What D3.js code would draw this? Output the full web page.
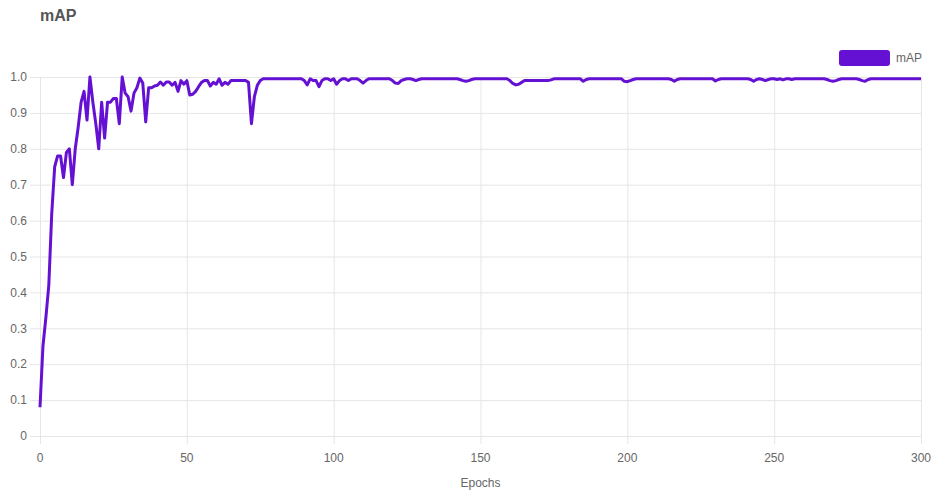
<!DOCTYPE html>
<html>
<head>
<meta charset="utf-8">
<script src="https://cdn.jsdelivr.net/npm/d3@7"></script>
<style>
  html, body { margin: 0; padding: 0; background: #ffffff; }
  svg { display: block; font-family: "Liberation Sans", Arial, Helvetica, sans-serif; }
</style>
</head>
<body>
<svg id="chart" width="943" height="492"></svg>
<script>
// ---- data ----
const chartTitle = "mAP";
const seriesName = "mAP";
const xAxisLabel = "Epochs";
const xTicks = [0, 50, 100, 150, 200, 250, 300];
const yTicks = [0, 0.1, 0.2, 0.3, 0.4, 0.5, 0.6, 0.7, 0.8, 0.9, 1.0];
const yTickLabels = ["0", "0.1", "0.2", "0.3", "0.4", "0.5", "0.6", "0.7", "0.8", "0.9", "1.0"];
// mAP value for epochs 0..300
const mapValues = [
  0.08, 0.25, 0.33, 0.42, 0.62, 0.75, 0.78, 0.78, 0.72, 0.79,
  0.80, 0.70, 0.80, 0.86, 0.93, 0.96, 0.88, 1.00, 0.93, 0.87,
  0.80, 0.93, 0.83, 0.93, 0.93, 0.94, 0.94, 0.87, 1.00, 0.955,
  0.945, 0.905, 0.955, 0.97, 0.997, 0.983, 0.875, 0.97, 0.97, 0.975,
  0.977, 0.986, 0.977, 0.986, 0.986, 0.977, 0.985, 0.96, 0.99, 0.98,
  0.99, 0.95, 0.952, 0.96, 0.973, 0.985, 0.99, 0.99, 0.975, 0.985,
  0.98, 0.995, 0.977, 0.985, 0.98, 0.99, 0.99, 0.99, 0.99, 0.99,
  0.99, 0.985, 0.87, 0.945, 0.977, 0.99, 0.995, 0.995, 0.995, 0.995,
  0.995, 0.995, 0.995, 0.995, 0.995, 0.995, 0.995, 0.995, 0.995, 0.995,
  0.99, 0.978, 0.995, 0.99, 0.99, 0.973, 0.99, 0.995, 0.995, 0.99,
  0.995, 0.98, 0.99, 0.995, 0.995, 0.99, 0.995, 0.995, 0.995, 0.99,
  0.983, 0.99, 0.995, 0.995, 0.995, 0.995, 0.995, 0.995, 0.995, 0.995,
  0.99, 0.983, 0.982, 0.99, 0.993, 0.995, 0.995, 0.993, 0.99, 0.993,
  0.995, 0.995, 0.995, 0.995, 0.995, 0.995, 0.995, 0.995, 0.995, 0.995,
  0.995, 0.995, 0.995, 0.993, 0.99, 0.988, 0.99, 0.993, 0.995, 0.995,
  0.995, 0.995, 0.995, 0.995, 0.995, 0.995, 0.995, 0.995, 0.995, 0.995,
  0.99, 0.982, 0.978, 0.98, 0.985, 0.99, 0.99, 0.99, 0.99, 0.99,
  0.99, 0.99, 0.99, 0.99, 0.992, 0.995, 0.995, 0.995, 0.995, 0.995,
  0.995, 0.995, 0.995, 0.995, 0.995, 0.988, 0.993, 0.995, 0.995, 0.995,
  0.995, 0.995, 0.995, 0.995, 0.995, 0.995, 0.995, 0.995, 0.995, 0.988,
  0.987, 0.99, 0.993, 0.995, 0.995, 0.995, 0.995, 0.995, 0.995, 0.995,
  0.995, 0.995, 0.995, 0.995, 0.995, 0.993, 0.988, 0.993, 0.995, 0.995,
  0.995, 0.995, 0.995, 0.995, 0.995, 0.995, 0.995, 0.995, 0.995, 0.995,
  0.989, 0.993, 0.995, 0.995, 0.995, 0.995, 0.995, 0.995, 0.995, 0.995,
  0.995, 0.995, 0.993, 0.988, 0.993, 0.995, 0.993, 0.99, 0.993, 0.995,
  0.995, 0.993, 0.995, 0.992, 0.995, 0.995, 0.993, 0.995, 0.995, 0.995,
  0.995, 0.995, 0.995, 0.995, 0.995, 0.995, 0.995, 0.995, 0.993, 0.99,
  0.988, 0.99, 0.993, 0.995, 0.995, 0.995, 0.995, 0.995, 0.995, 0.993,
  0.99, 0.988, 0.993, 0.995, 0.995, 0.995, 0.995, 0.995, 0.995, 0.995,
  0.995, 0.995, 0.995, 0.995, 0.995, 0.995, 0.995, 0.995, 0.995, 0.995,
  0.995
];
const epochs = mapValues.map((_, i) => i);

// ---- layout ----
const lineColor = "#6411d4";
const gridColor = "#e6e6e6";
const textColor = "#666666";
const margin = { left: 40, right: 22, top: 77, bottom: 56 };
const W = 943, H = 492;

const x = d3.scaleLinear().domain([0, 300]).range([margin.left, W - margin.right]);
const y = d3.scaleLinear().domain([0, 1]).range([H - margin.bottom, margin.top]);

const svg = d3.select("#chart");

// title
svg.append("text")
  .attr("x", 40).attr("y", 21)
  .attr("font-size", 16).attr("font-weight", "bold")
  .attr("fill", "#555").text(chartTitle);

// horizontal grid + y axis
const yAxis = d3.axisLeft(y)
  .tickValues(yTicks)
  .tickFormat((d, i) => yTickLabels[i])
  .tickSize(-(x.range()[1] - x.range()[0]) - 10)
  .tickPadding(0);
const gy = svg.append("g")
  .attr("transform", `translate(${x.range()[1]},0)`)
  .call(d3.axisLeft(y).tickValues(yTicks).tickFormat("").tickSize(x.range()[1] - x.range()[0] + 10));
gy.select(".domain").remove();
gy.selectAll("line").attr("stroke", gridColor).attr("stroke-width", 1);

const gyLabels = svg.append("g");
gyLabels.selectAll("text").data(yTicks).join("text")
  .attr("x", 27).attr("y", d => y(d)).attr("dy", "0.35em")
  .attr("text-anchor", "end").attr("font-size", 12).attr("fill", textColor)
  .text((d, i) => yTickLabels[i]);

// vertical grid + x axis
const gx = svg.append("g")
  .attr("transform", `translate(0,${y.range()[1]})`)
  .call(d3.axisBottom(x).tickValues(xTicks).tickFormat("").tickSize(y.range()[0] - y.range()[1] + 8));
gx.select(".domain").remove();
gx.selectAll("line").attr("stroke", gridColor).attr("stroke-width", 1);

svg.append("g").selectAll("text").data(xTicks).join("text")
  .attr("x", d => x(d)).attr("y", y(0) + 26)
  .attr("text-anchor", "middle").attr("font-size", 12).attr("fill", textColor)
  .text(d => d);

svg.append("text")
  .attr("x", (x.range()[0] + x.range()[1]) / 2).attr("y", 487)
  .attr("text-anchor", "middle").attr("font-size", 12).attr("fill", textColor)
  .text(xAxisLabel);

// line
const line = d3.line().x((d, i) => x(epochs[i])).y(d => y(d));
svg.append("path")
  .datum(mapValues)
  .attr("d", line)
  .attr("fill", "none")
  .attr("stroke", lineColor)
  .attr("stroke-width", 3)
  .attr("stroke-linejoin", "round");

// legend
svg.append("rect")
  .attr("x", 839).attr("y", 50).attr("width", 51).attr("height", 16)
  .attr("rx", 3).attr("fill", lineColor);
svg.append("text")
  .attr("x", 896).attr("y", 58).attr("dy", "0.35em")
  .attr("font-size", 12).attr("fill", textColor)
  .text(seriesName);
</script>
</body>
</html>
